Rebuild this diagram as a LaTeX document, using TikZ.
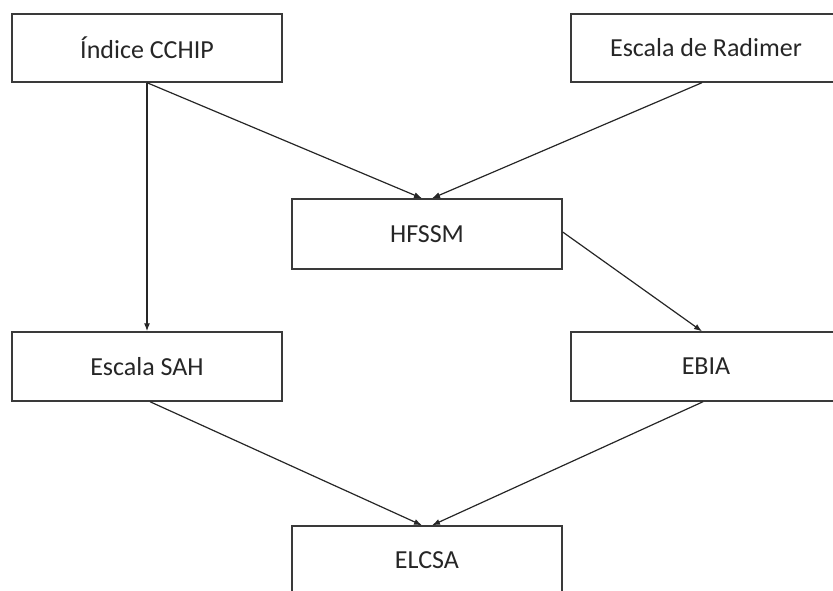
\documentclass[tikz,border=0pt]{standalone}
\usepackage{fontspec}
\setmainfont{Carlito}
\usetikzlibrary{arrows.meta}
\definecolor{edgegray}{HTML}{3A3A3A}
\definecolor{textgray}{HTML}{262626}
\begin{document}
\begin{tikzpicture}[x=1pt,y=-1pt,
  box/.style={draw=edgegray, line width=1.4pt, rectangle, minimum width=270pt,
    minimum height=68pt, inner sep=0pt, text=textgray,
    font=\fontsize{26pt}{30pt}\selectfont},
  arr/.style={draw=black!85, line width=1.2pt, -{Latex[length=8pt,width=6pt]}}]
  \useasboundingbox (0,0) rectangle (833,590);
  \clip (0,0) rectangle (833,590);
  % top row
  \node[box] (cchip) at (147,48) {Índice CCHIP};
  \node[box] (radimer) at (706,48) {Escala de Radimer};
  % middle
  \node[box, minimum height=70pt] (hfssm) at (427,234) {HFSSM};
  % third row
  \node[box, minimum height=69pt] (sah) at (147,366.5) {Escala SAH};
  \node[box, minimum height=69pt] (ebia) at (706,366.5) {EBIA};
  % bottom
  \node[box, minimum height=69pt] (elcsa) at (427,560.5) {ELCSA};
  % connectors
  \draw[arr] (cchip.south) -- (sah.north);
  \draw[arr] (cchip.south) -- ([xshift=-5pt]hfssm.north);
  \draw[arr] ([xshift=-4pt]radimer.south) -- ([xshift=5pt]hfssm.north);
  \draw[arr] ([yshift=2pt]hfssm.east) -- ([xshift=-4pt]ebia.north);
  \draw[arr] ([xshift=3pt]sah.south) -- ([xshift=-5pt]elcsa.north);
  \draw[arr] ([xshift=-3pt]ebia.south) -- ([xshift=5pt]elcsa.north);
\end{tikzpicture}
\end{document}
